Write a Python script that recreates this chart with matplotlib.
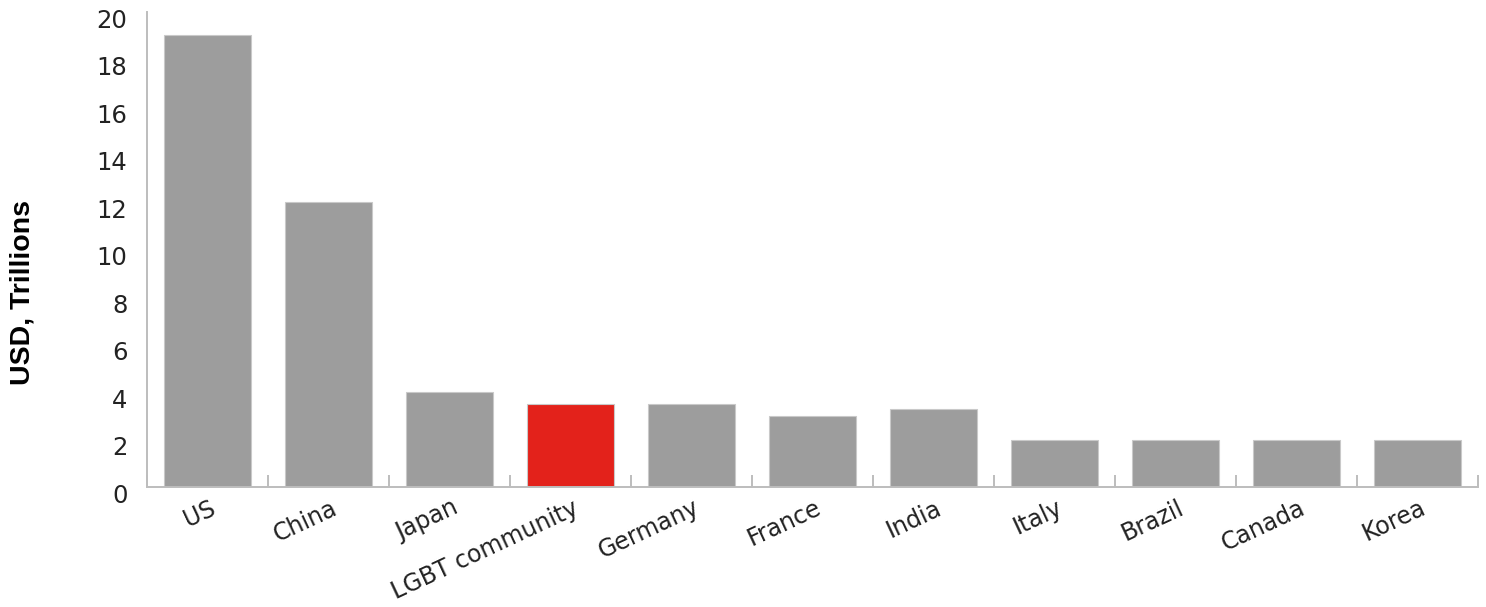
import numpy as np
import matplotlib
matplotlib.use("Agg")
import matplotlib.pyplot as plt
import matplotlib.transforms as mtransforms

countries = ["US", "China", "Japan", "LGBT community", "Germany", "France",
             "India", "Italy", "Brazil", "Canada", "Korea"]
gdp = [19.05, 12.0, 4.0, 3.5, 3.5, 3.0, 3.3, 2.0, 2.0, 2.0, 2.0]
highlight = "LGBT community"

grey = "#9d9d9d"
red = "#e3221b"
axis_col = "#bdbdbd"

fig = plt.figure(figsize=(14.86, 6.07), dpi=100)
ax = fig.add_axes([0.0989, 0.1969, 0.8957, 0.7833])

x = np.arange(len(countries))
colors = [red if c == highlight else grey for c in countries]
ax.bar(x, gdp, width=0.72, color=colors, edgecolor="#c9c9c9", linewidth=0.8)

ax.set_xlim(-0.5, len(countries) - 0.5)
ax.set_ylim(0, 20)
ax.set_yticks(np.arange(0, 21, 2))

for s in ["top", "right"]:
    ax.spines[s].set_visible(False)
for s in ["left", "bottom"]:
    ax.spines[s].set_color(axis_col)
    ax.spines[s].set_linewidth(1.4)

# category separators as small inward ticks
ax.set_xticks(np.arange(-0.5, len(countries), 1.0), minor=True)
ax.tick_params(axis="x", which="minor", direction="in", length=9, width=1.4, color=axis_col)
ax.set_xticks(x)
ax.tick_params(axis="x", which="major", length=0, pad=6)
ax.tick_params(axis="y", length=0, pad=14, labelsize=17.5, labelcolor="#222222")

ax.set_xticklabels(countries, rotation=25, ha="right", fontsize=17, color="#222222")
shift_x = mtransforms.ScaledTranslation(12 / 100, 0, fig.dpi_scale_trans)
for lab in ax.get_xticklabels():
    lab.set_transform(lab.get_transform() + shift_x)
shift_y = mtransforms.ScaledTranslation(0, -6 / 100, fig.dpi_scale_trans)
for lab in ax.get_yticklabels():
    lab.set_transform(lab.get_transform() + shift_y)

ax.set_ylabel("USD, Trillions", fontsize=20.5, fontweight="bold",
              family="Liberation Sans")
ax.yaxis.set_label_coords(-0.084, 0.41)

fig.savefig("out.png", dpi=100)
